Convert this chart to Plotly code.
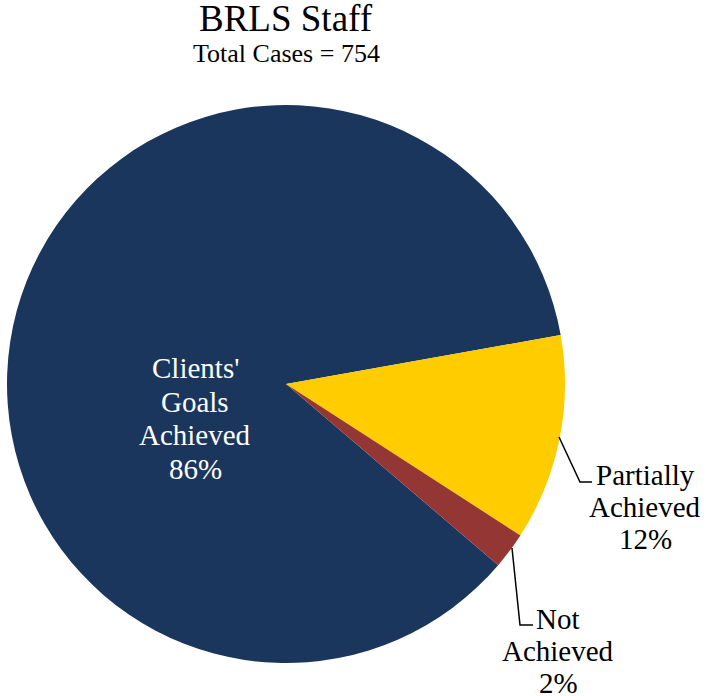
import plotly.graph_objects as go

W, H = 706, 696

categories = ["Clients' Goals Achieved", "Partially Achieved", "Not Achieved"]
case_counts = [648, 90, 16]
label_lines = [["Clients'", "Goals", "Achieved", "86%"],
               ["Partially", "Achieved", "12%"],
               ["Not", "Achieved", "2%"]]
colors = ["#1A365D", "#FFCC00", "#943634"]
label_colors = ["white", "black", "black"]
title_text = "BRLS Staff"
subtitle_text = "Total Cases = 754"

FONT = "Liberation Serif, Times New Roman, serif"

def px(x):
    return min(max(x / W, 0), 1)

def py(y):
    return min(max(1 - y / H, 0), 1)

cx, cy, r = 286, 384, 279

fig = go.Figure(go.Pie(
    labels=categories,
    values=case_counts,
    marker=dict(colors=colors, line=dict(width=0)),
    sort=False,
    direction="clockwise",
    rotation=130.5,
    textinfo="none",
    hoverinfo="label+percent",
    domain=dict(x=[px(cx - r), px(cx + r)], y=[py(cy + r), py(cy - r)]),
    showlegend=False,
))

annotations = [
    dict(text=title_text, x=px(cx), y=py(19), font=dict(size=37, color="black", family=FONT)),
    dict(text=subtitle_text, x=px(cx), y=py(53), font=dict(size=26, color="black", family=FONT)),
]
# label block positions: (centre x, first line y, line step)
label_pos = [(195, 368, 33.5), (645, 475, 32), (558, 619, 32)]
for lines, (lx, ly, step), col in zip(label_lines, label_pos, label_colors):
    for i, t in enumerate(lines):
        annotations.append(dict(text=t, x=px(lx), y=py(ly + i * step),
                                font=dict(size=29, color=col, family=FONT)))
for a in annotations:
    a.update(xref="paper", yref="paper", showarrow=False, xanchor="center",
             yanchor="middle", borderpad=0)

line_style = dict(color="black", width=1.5)
shapes = [
    dict(type="path", path=f"M {px(559)} {py(437)} L {px(580)} {py(482)} L {px(592)} {py(482)}"),
    dict(type="path", path=f"M {px(512)} {py(548)} L {px(520)} {py(625)} L {px(533)} {py(625)}"),
]
for s in shapes:
    s.update(xref="paper", yref="paper", line=line_style)

fig.update_layout(
    width=W, height=H,
    margin=dict(l=0, r=0, t=0, b=0),
    paper_bgcolor="white",
    plot_bgcolor="white",
    annotations=annotations,
    shapes=shapes,
)

fig.write_html("out.html", config={"displayModeBar": False},
               post_script="document.body.style.margin='0px';")
